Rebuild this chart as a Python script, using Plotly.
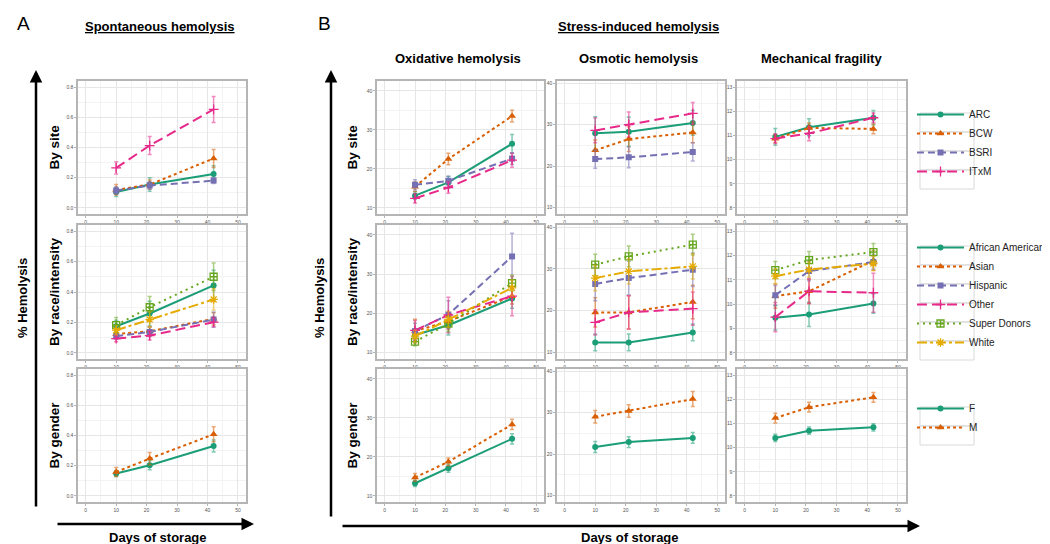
import plotly.graph_objects as go

# ---------------- data ----------------
days = [10, 21, 42]
site_names = ["ARC", "BCW", "BSRI", "ITxM"]
race_names = ["African American", "Asian", "Hispanic", "Other", "Super Donors", "White"]
gender_names = ["F", "M"]

# Spontaneous hemolysis (%)
spont_site_mean = {"ARC": [0.105, 0.155, 0.225], "BCW": [0.12, 0.155, 0.327],
                   "BSRI": [0.115, 0.148, 0.181], "ITxM": [0.265, 0.413, 0.652]}
spont_site_err = {"ARC": [0.03, 0.045, 0.055], "BCW": [0.035, 0.03, 0.06],
                  "BSRI": [0.025, 0.025, 0.02], "ITxM": [0.04, 0.06, 0.086]}
spont_race_mean = {"African American": [0.175, 0.259, 0.443], "Asian": [0.125, 0.142, 0.224],
                   "Hispanic": [0.11, 0.138, 0.219], "Other": [0.094, 0.114, 0.202],
                   "Super Donors": [0.182, 0.30, 0.50], "White": [0.149, 0.219, 0.351]}
spont_race_err = {"African American": [0.04, 0.08, 0.1], "Asian": [0.02, 0.03, 0.04],
                  "Hispanic": [0.02, 0.03, 0.05], "Other": [0.02, 0.03, 0.03],
                  "Super Donors": [0.05, 0.07, 0.09], "White": [0.03, 0.05, 0.07]}
spont_gender_mean = {"F": [0.148, 0.203, 0.331], "M": [0.159, 0.247, 0.408]}
spont_gender_err = {"F": [0.02, 0.03, 0.04], "M": [0.03, 0.04, 0.05]}

# Oxidative hemolysis (%)
oxid_site_mean = {"ARC": [13.1, 16.5, 26.4], "BCW": [15.4, 22.5, 33.5],
                  "BSRI": [15.9, 16.9, 22.6], "ITxM": [12.4, 15.2, 22.2]}
oxid_site_err = {"ARC": [1.0, 1.5, 2.4], "BCW": [1.2, 1.5, 1.5],
                 "BSRI": [1.3, 1.2, 1.5], "ITxM": [1.2, 1.5, 1.8]}
oxid_race_mean = {"African American": [14.5, 17.0, 23.8], "Asian": [15.5, 18.0, 24.4],
                  "Hispanic": [15.5, 19.7, 34.5], "Other": [15.7, 19.6, 24.4],
                  "Super Donors": [12.8, 17.4, 27.7], "White": [14.2, 18.5, 26.5]}
oxid_race_err = {"African American": [1.5, 2.5, 2.5], "Asian": [3.0, 2.0, 2.0],
                 "Hispanic": [2.0, 3.5, 5.9], "Other": [2.5, 4.5, 5.0],
                 "Super Donors": [1.0, 2.0, 2.0], "White": [1.5, 2.0, 2.0]}
oxid_gender_mean = {"F": [13.2, 17.05, 24.6], "M": [14.7, 18.7, 28.3]}
oxid_gender_err = {"F": [0.8, 1.0, 1.3], "M": [1.0, 1.0, 1.3]}

# Osmotic hemolysis (%)
osmo_site_mean = {"ARC": [27.9, 28.3, 30.4], "BCW": [23.8, 26.5, 28.1],
                  "BSRI": [21.7, 22.1, 23.4], "ITxM": [28.6, 30.0, 32.7]}
osmo_site_err = {"ARC": [4.0, 3.5, 3.0], "BCW": [2.5, 3.0, 2.5],
                 "BSRI": [2.2, 2.5, 2.2], "ITxM": [3.0, 3.0, 2.6]}
osmo_race_mean = {"African American": [12.4, 12.4, 14.8], "Asian": [19.6, 19.6, 22.1],
                  "Hispanic": [26.4, 27.8, 29.8], "Other": [17.2, 19.6, 20.5],
                  "Super Donors": [31.0, 33.0, 35.8], "White": [27.8, 29.4, 30.6]}
osmo_race_err = {"African American": [2.0, 2.0, 2.0], "Asian": [3.5, 4.0, 4.0],
                 "Hispanic": [4.0, 4.0, 4.0], "Other": [3.0, 4.0, 4.0],
                 "Super Donors": [2.5, 2.5, 2.5], "White": [3.0, 3.0, 3.0]}
osmo_gender_mean = {"F": [21.7, 22.9, 23.9], "M": [29.0, 30.4, 33.25]}
osmo_gender_err = {"F": [1.3, 1.3, 1.3], "M": [1.5, 1.5, 1.8]}

# Mechanical fragility
mech_site_mean = {"ARC": [10.94, 11.34, 11.73], "BCW": [10.86, 11.31, 11.27],
                  "ITxM": [10.87, 11.08, 11.73]}
mech_site_err = {"ARC": [0.35, 0.35, 0.3], "BCW": [0.15, 0.2, 0.2], "ITxM": [0.2, 0.3, 0.2]}
mech_race_mean = {"African American": [9.44, 9.58, 10.03], "Asian": [10.33, 10.53, 11.79],
                  "Hispanic": [10.37, 11.36, 11.73], "Other": [9.47, 10.53, 10.47],
                  "Super Donors": [11.40, 11.81, 12.14], "White": [11.15, 11.42, 11.67]}
mech_race_err = {"African American": [0.5, 0.5, 0.4], "Asian": [0.5, 0.5, 0.4],
                 "Hispanic": [0.4, 0.4, 0.3], "Other": [0.6, 0.5, 0.8],
                 "Super Donors": [0.35, 0.35, 0.35], "White": [0.3, 0.3, 0.3]}
mech_gender_mean = {"F": [10.40, 10.70, 10.84], "M": [11.22, 11.67, 12.08]}
mech_gender_err = {"F": [0.15, 0.15, 0.15], "M": [0.2, 0.2, 0.2]}

x_ticks = [0, 10, 20, 30, 40, 50]
spont_ticks = [0.0, 0.2, 0.4, 0.6, 0.8]
pct_ticks = [10, 20, 30, 40]
mech_ticks = [8, 9, 10, 11, 12, 13]

# ---------------- styles ----------------
W, H = 1050, 544
FONT = "Liberation Sans, Arial, sans-serif"

# style slot per level: (color, rgba error colour, dash, symbol, size)
styles = [
    ("#1B9E77", "rgba(27,158,119,0.55)", "solid", "circle", 6),
    ("#D95F02", "rgba(217,95,2,0.55)", "3px,3px", "triangle-up", 7),
    ("#7570B3", "rgba(117,112,179,0.55)", "7px,4px", "square", 6),
    ("#E7298A", "rgba(231,41,138,0.55)", "10px,5px", "cross-thin", 7),
    ("#66A61E", "rgba(102,166,30,0.55)", "2px,4px", "square-cross-open", 7),
    ("#E6AB02", "rgba(230,171,2,0.55)", "10px,3px,3px,3px", "asterisk-open", 7),
]

def px_x(p):
    return p / W

def px_y(p):
    return 1 - p / H

col_px = [(70.1, 237.6), (369.1, 535.9), (549.1, 716.8), (729.0, 897.6)]
row_px = [(73, 206), (217, 351), (361, 494)]
col_yrange = [[-0.04, 0.84], [8.4, 42.5], [8.45, 40.5], [7.75, 13.25]]
col_yticks = [spont_ticks, pct_ticks, pct_ticks, mech_ticks]
col_ytext = [["0.0", "0.2", "0.4", "0.6", "0.8"], None, None, None]
col_yminor = [0.1, 5, 5, 0.5]

panels = [
    [(spont_site_mean, spont_site_err), (oxid_site_mean, oxid_site_err),
     (osmo_site_mean, osmo_site_err), (mech_site_mean, mech_site_err)],
    [(spont_race_mean, spont_race_err), (oxid_race_mean, oxid_race_err),
     (osmo_race_mean, osmo_race_err), (mech_race_mean, mech_race_err)],
    [(spont_gender_mean, spont_gender_err), (oxid_gender_mean, oxid_gender_err),
     (osmo_gender_mean, osmo_gender_err), (mech_gender_mean, mech_gender_err)],
]
row_levels = [site_names, race_names, gender_names]
row_legend = ["legend", "legend2", "legend3"]

fig = go.Figure()
layout_axes = {}

for r in range(3):
    for c in range(4):
        i = r * 4 + c + 1
        xname = "xaxis" if i == 1 else f"xaxis{i}"
        yname = "yaxis" if i == 1 else f"yaxis{i}"
        xref = "x" if i == 1 else f"x{i}"
        yref = "y" if i == 1 else f"y{i}"
        x0, x1 = col_px[c]
        y0, y1 = row_px[r]
        common = dict(
            showline=True, mirror=True, linecolor="#b5b5b5", linewidth=1.5,
            ticks="outside", ticklen=2, tickcolor="#b5b5b5", tickwidth=0.8,
            tickfont=dict(size=5, color="#555555", family=FONT),
            showgrid=True, gridcolor="#e6e6e6", gridwidth=1, zeroline=False,
        )
        layout_axes[xname] = dict(
            common, domain=[px_x(x0), px_x(x1)], anchor=yref, range=[-2.5, 52.5],
            tickvals=x_ticks, minor=dict(dtick=5, tick0=5, showgrid=True,
                                         gridcolor="#f3f3f3", gridwidth=0.6, ticks=""),
        )
        ydict = dict(
            common, domain=[px_y(y1), px_y(y0)], anchor=xref, range=col_yrange[c],
            tickvals=col_yticks[c],
            minor=dict(dtick=col_yminor[c], showgrid=True, gridcolor="#f3f3f3",
                       gridwidth=0.6, ticks=""),
        )
        if col_ytext[c] is not None:
            ydict["ticktext"] = col_ytext[c]
        layout_axes[yname] = ydict

        mean_d, err_d = panels[r][c]
        for k, name in enumerate(row_levels[r]):
            if name not in mean_d:
                continue
            color, ecolor, dash, symbol, size = styles[k]
            open_sym = symbol.endswith("open") or symbol == "cross-thin"
            fig.add_trace(go.Scatter(
                x=days, y=mean_d[name], name=name, mode="lines+markers",
                xaxis=xref, yaxis=yref,
                line=dict(color=color, width=2, dash=dash),
                marker=dict(symbol=symbol, size=size, color=color,
                            line=dict(color=color, width=1.3 if open_sym else 0)),
                error_y=dict(type="data", array=err_d[name], color=ecolor,
                             thickness=1.5, width=2),
                legend=row_legend[r], showlegend=(c == 0), legendgroup=f"{r}-{name}",
            ))

# ---------------- annotations ----------------
ann = []

def text(x, y, s, size=13, bold=True, angle=0, color="black"):
    ann.append(dict(x=px_x(x), y=px_y(y), xref="paper", yref="paper",
                    text=(f"<b>{s}</b>" if bold else s), showarrow=False,
                    textangle=angle, font=dict(size=size, color=color, family=FONT),
                    xanchor="center", yanchor="middle"))

text(15, 15, "A", size=19, bold=False)
text(316, 15, "B", size=19, bold=False)
text(152, 19, "<u>Spontaneous hemolysis</u>", size=13)
text(630, 19, "<u>Stress-induced hemolysis</u>", size=13)
text(450, 50, "Oxidative hemolysis", size=13)
text(630, 50, "Osmotic hemolysis", size=13)
text(813, 50, "Mechanical fragility", size=13)

row_titles = ["By site", "By race/intensity", "By gender"]
for r, t in enumerate(row_titles):
    yc = (row_px[r][0] + row_px[r][1]) / 2
    text(46, yc, t, size=13.5, angle=-90)
    text(344, yc, t, size=13.5, angle=-90)

text(14, 290, "% Hemolysis", size=13, angle=-90)
text(311, 290, "% Hemolysis", size=13, angle=-90)
text(150, 529, "Days of storage", size=13)
text(622, 529, "Days of storage", size=13)

def arrow(hx, hy, tx, ty):
    ann.append(dict(x=px_x(hx), y=px_y(hy), xref="paper", yref="paper",
                    ax=tx - hx, ay=ty - hy, axref="pixel", ayref="pixel",
                    text="", showarrow=True, arrowhead=2, arrowsize=1,
                    arrowwidth=2.5, arrowcolor="black", standoff=0, startstandoff=0))

arrow(28, 62, 28, 500)
arrow(246, 516, 48, 516)
arrow(323, 62, 323, 510)
arrow(912, 518, 333, 518)

# legend placement: target centre (px) of each legend block
LEG_X = 904
legend_centres = [143, 295, 418]
ITEM_H = 19
shapes = []
for r, levels in enumerate(row_levels):
    n = len(levels)
    for k in range(n):
        yc = legend_centres[r] + (k - (n - 1) / 2) * ITEM_H
        shapes.append(dict(type="rect", xref="paper", yref="paper",
                           x0=px_x(912), x1=px_x(966),
                           y0=px_y(yc + ITEM_H / 2), y1=px_y(yc - ITEM_H / 2),
                           line=dict(color="#d9d9d9", width=1), layer="below"))

leg_common = dict(xanchor="left", yanchor="middle", font=dict(size=10, color="#222222", family=FONT),
                  itemwidth=47, tracegroupgap=0, bgcolor="rgba(0,0,0,0)", borderwidth=0)

fig.update_layout(
    width=W, height=H, margin=dict(l=0, r=0, t=0, b=0),
    paper_bgcolor="white", plot_bgcolor="white",
    font=dict(family=FONT),
    annotations=ann, shapes=shapes,
    legend=dict(leg_common, x=px_x(LEG_X), y=px_y(legend_centres[0] - 8)),
    legend2=dict(leg_common, x=px_x(LEG_X), y=px_y(legend_centres[1] - 8)),
    legend3=dict(leg_common, x=px_x(LEG_X), y=px_y(legend_centres[2] - 8)),
    **layout_axes,
)

fig.write_html("out.html")
